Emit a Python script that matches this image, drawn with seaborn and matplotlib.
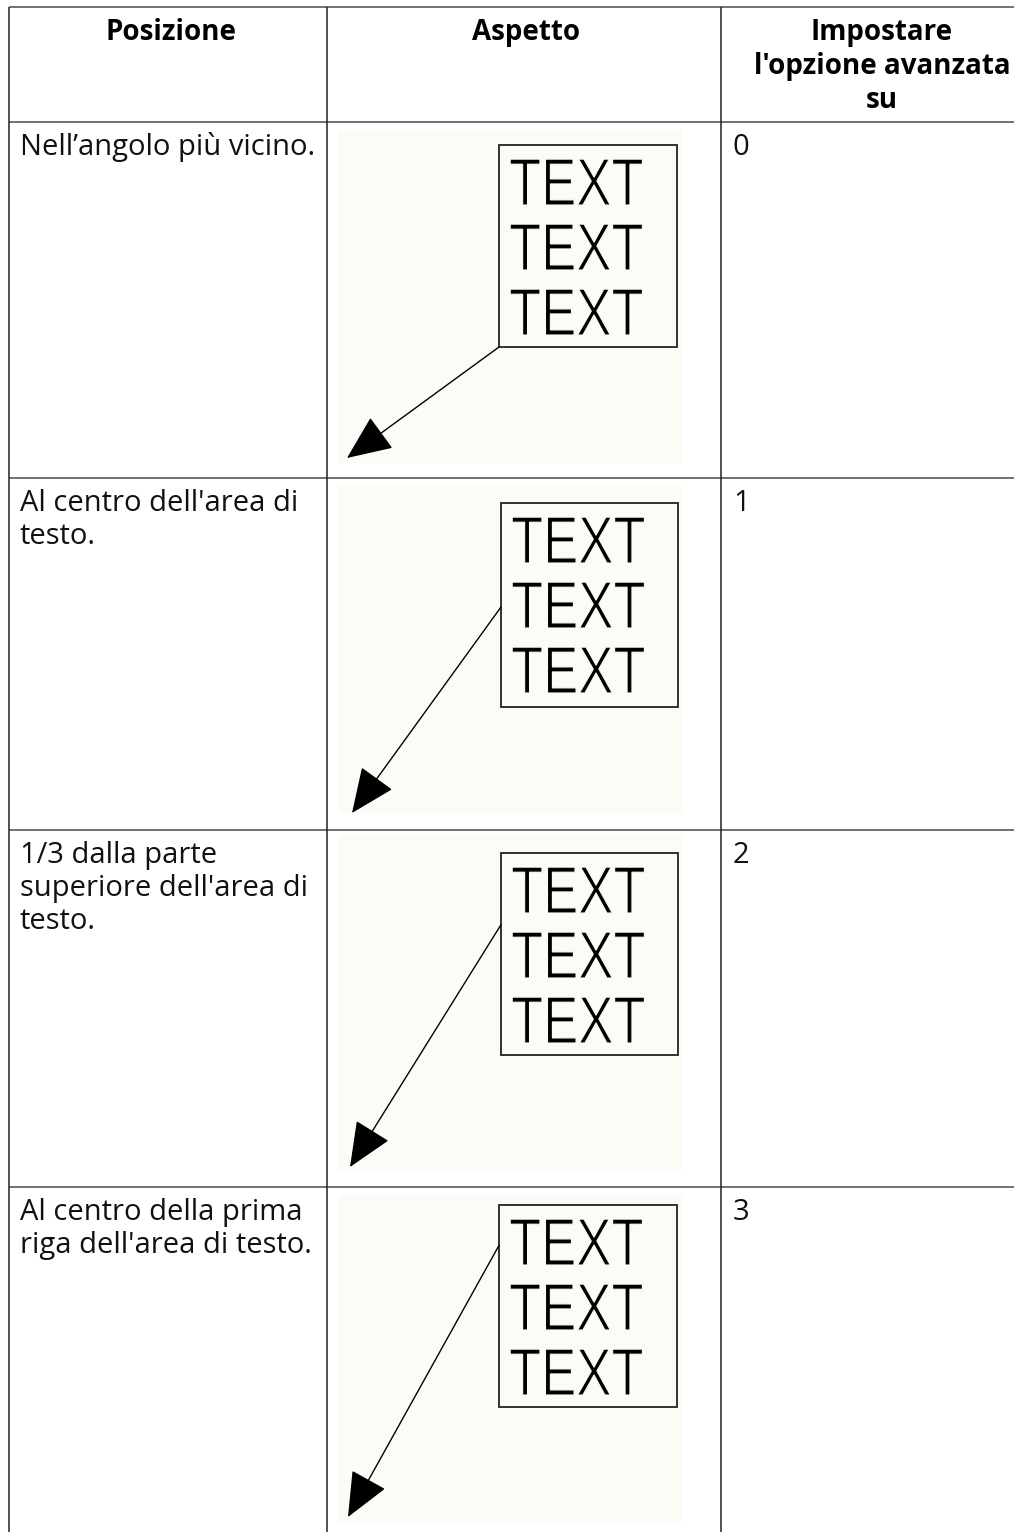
import matplotlib
matplotlib.use("Agg")
import matplotlib.pyplot as plt
import seaborn as sns
from matplotlib.patches import Rectangle
from matplotlib.patheffects import AbstractPathEffect
from matplotlib.transforms import Affine2D

# ---------------- data ----------------
headers = ["Posizione", "Aspetto", "Impostare\nl'opzione avanzata\nsu"]
positions = [
    "Nell\u2019angolo più vicino.",
    "Al centro dell'area di\ntesto.",
    "1/3 dalla parte\nsuperiore dell'area di\ntesto.",
    "Al centro della prima\nriga dell'area di testo.",
]
settings = ["0", "1", "2", "3"]
sample_text = ["TEXT", "TEXT", "TEXT"]
# fraction of the text-box height where the leader starts (left edge)
leader_start = [1.0, 0.51, 0.355, 0.2]

# ---------------- layout (pixels) ----------------
W, H = 1014, 1532
row_lines = [7, 122, 478, 830, 1187]
col_lines = [9, 327, 721]
bg_boxes = [(338, 130, 682, 463), (338, 485, 682, 813),
            (338, 835, 682, 1172), (338, 1195, 682, 1523)]
txt_boxes = [(499, 145, 677, 347), (501, 503, 678, 707),
             (501, 853, 678, 1055), (499, 1205, 677, 1407)]
tips = [(347, 458), (352, 813), (350, 1167), (348, 1517)]

sns.set_theme(style="white")
plt.rcParams["font.family"] = ["Open Sans", "DejaVu Sans"]

fig = plt.figure(figsize=(W / 100, H / 100), dpi=100)
ax = fig.add_axes([0, 0, 1, 1])
ax.set_xlim(0, W)
ax.set_ylim(H, 0)
ax.axis("off")

bg_col = "#fcfcf7"


class Condense(AbstractPathEffect):
    """Squeeze a text horizontally about its left anchor (keeps it real text)."""

    def __init__(self, sx, xdata, thin=0.8, thin_color=bg_col):
        super().__init__()
        self.sx = sx
        self.xdata = xdata
        self.thin = thin
        self.thin_color = thin_color

    def draw_path(self, renderer, gc, tpath, affine, rgbFace=None):
        x0 = ax.transData.transform((self.xdata, 0))[0]
        tr = affine + Affine2D().translate(-x0, 0).scale(self.sx, 1.0).translate(x0, 0)
        renderer.draw_path(gc, tpath, tr, rgbFace)
        gc2 = renderer.new_gc()
        gc2.copy_properties(gc)
        gc2.set_foreground(self.thin_color)
        gc2.set_linewidth(self.thin)
        renderer.draw_path(gc2, tpath, tr, None)
        gc2.restore()


line_c = "#4a4a4a"
for y in row_lines:
    ax.plot([col_lines[0], W + 5], [y, y], color=line_c, lw=1.1, solid_capstyle="butt")
for x in col_lines:
    ax.plot([x, x], [row_lines[0], H + 5], color="#222222", lw=1.1, solid_capstyle="butt")

# header
hcenters = [171, 526, 882]
for hx, htxt in zip(hcenters, headers):
    for k, ln in enumerate(htxt.split("\n")):
        ax.text(hx, 40 + 34 * k, ln, ha="center", va="baseline",
                fontsize=20, fontweight="bold", color="black")

fs_body = 21
for i in range(4):
    top = row_lines[i + 1]
    for k, ln in enumerate(positions[i].split("\n")):
        ax.text(20, top + 33 + 33 * k, ln, ha="left", va="baseline",
                fontsize=fs_body, color="#111111")
    ax.text(733, top + 33, settings[i], ha="left", va="baseline",
            fontsize=fs_body, color="#111111")

    # picture background
    x0, y0, x1, y1 = bg_boxes[i]
    ax.add_patch(Rectangle((x0, y0), x1 - x0, y1 - y0, facecolor=bg_col,
                           edgecolor="none", zorder=1))
    # text box
    bx0, by0, bx1, by1 = txt_boxes[i]
    ax.add_patch(Rectangle((bx0, by0), bx1 - bx0, by1 - by0, facecolor="none",
                           edgecolor="#222222", lw=1.3, zorder=3))
    for k, t in enumerate(sample_text):
        ax.text(bx0 + 10, by0 + 60 + 65 * k, t, ha="left", va="baseline",
                fontsize=48, family=["Liberation Sans", "DejaVu Sans"],
                color="black", zorder=4,
                path_effects=[Condense(0.79, bx0 + 10)])
    # leader arrow
    sy = by0 + leader_start[i] * (by1 - by0)
    ax.annotate("", xy=tips[i], xytext=(bx0, sy),
                arrowprops=dict(arrowstyle="-|>,head_length=28.8,head_width=12.5",
                                mutation_scale=1, lw=1.0, color="black",
                                shrinkA=0, shrinkB=0), zorder=5)

fig.savefig("out.png", dpi=100, facecolor="white")
